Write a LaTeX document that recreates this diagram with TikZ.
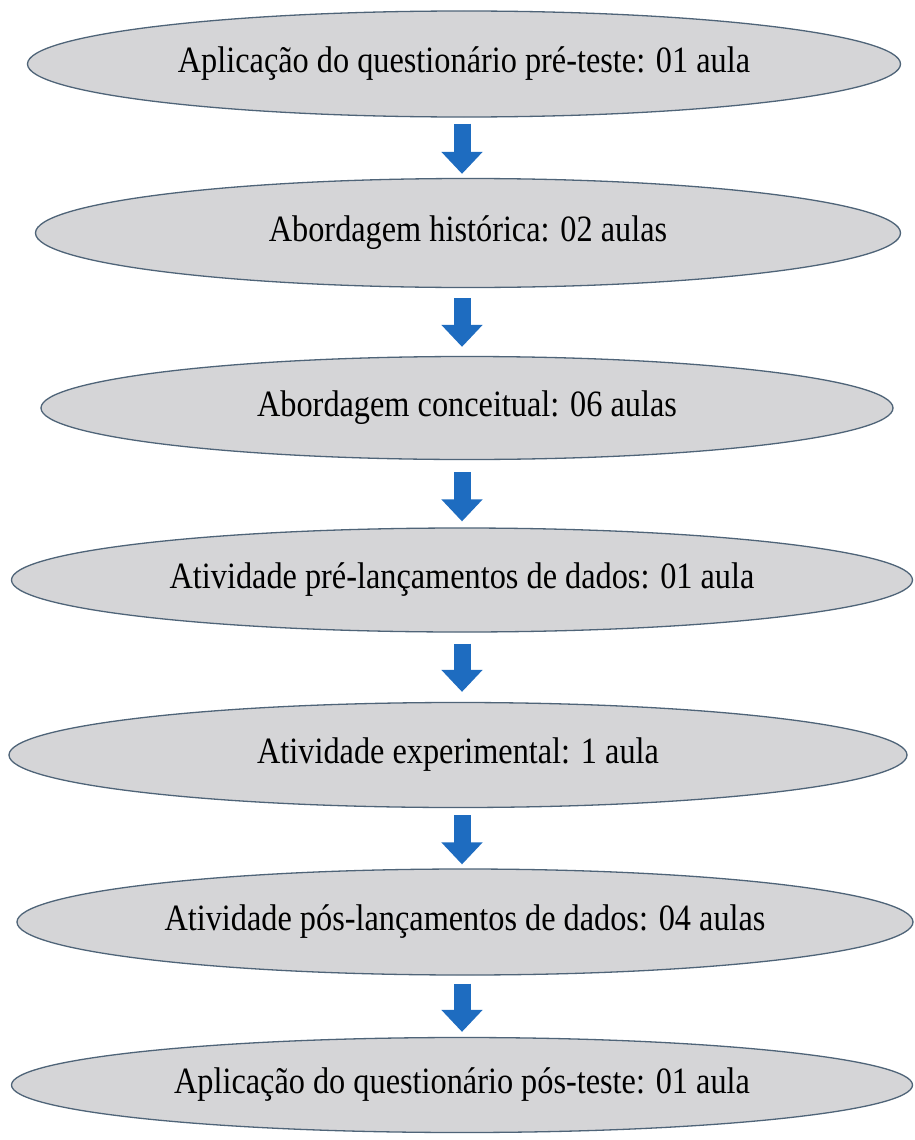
\documentclass[tikz,border=0pt]{standalone}
\usepackage{fontspec}
\setmainfont{Liberation Serif}
\usepackage{graphicx}
\usetikzlibrary{shapes.geometric,arrows.meta,calc}
\definecolor{ellfill}{HTML}{D5D5D7}
\definecolor{elldraw}{HTML}{4F6478}
\definecolor{arrblue}{HTML}{1E6CC0}
\newcommand{\stxt}[1]{\scalebox{1}[1.15]{#1}}
\begin{document}
\begin{tikzpicture}[x=1pt,y=-1pt,
  stage/.style={ellipse,draw=elldraw,fill=ellfill,line width=1.3pt,inner sep=0pt,
    font=\fontsize{32.3}{36}\selectfont,text=black},
  blockarrow/.style={draw=arrblue,line width=17pt,
    -{Triangle[width=40pt,length=22pt]},arrblue}]
\fill[white] (0,0) rectangle (915,1140);
\useasboundingbox (0,0) rectangle (915,1140);
\coordinate (ax) at (462,0);
\node[stage,minimum width=873pt,minimum height=106pt] (e1) at (464,64) {\stxt{Aplicação do questionário pré-teste: 01 aula}};
\node[stage,minimum width=865pt,minimum height=109pt] (e2) at (468,233) {\stxt{Abordagem histórica: 02 aulas}};
\node[stage,minimum width=852pt,minimum height=103pt] (e3) at (467,408) {\stxt{Abordagem conceitual: 06 aulas}};
\node[stage,minimum width=901pt,minimum height=104pt] (e4) at (462,580) {\stxt{Atividade pré-lançamentos de dados: 01 aula}};
\node[stage,minimum width=898pt,minimum height=105pt] (e5) at (458,755) {\stxt{Atividade experimental: 1 aula}};
\node[stage,minimum width=896pt,minimum height=106pt] (e6) at (465,922) {\stxt{Atividade pós-lançamentos de dados: 04 aulas}};
\node[stage,minimum width=901pt,minimum height=95pt] (e7) at (462,1085) {\stxt{Aplicação do questionário pós-teste: 01 aula}};
\draw[blockarrow] ($(e1.south -| ax)+(0,6)$) -- ($(e2.north -| ax)+(0,-4)$);
\draw[blockarrow] ($(e2.south -| ax)+(0,10)$) -- ($(e3.north -| ax)+(0,-9)$);
\draw[blockarrow] ($(e3.south -| ax)+(0,12)$) -- ($(e4.north -| ax)+(0,-6)$);
\draw[blockarrow] ($(e4.south -| ax)+(0,11)$) -- ($(e5.north -| ax)+(0,-10)$);
\draw[blockarrow] ($(e5.south -| ax)+(0,7)$) -- ($(e6.north -| ax)+(0,-4)$);
\draw[blockarrow] ($(e6.south -| ax)+(0,8)$) -- ($(e7.north -| ax)+(0,-5)$);
\end{tikzpicture}
\end{document}
